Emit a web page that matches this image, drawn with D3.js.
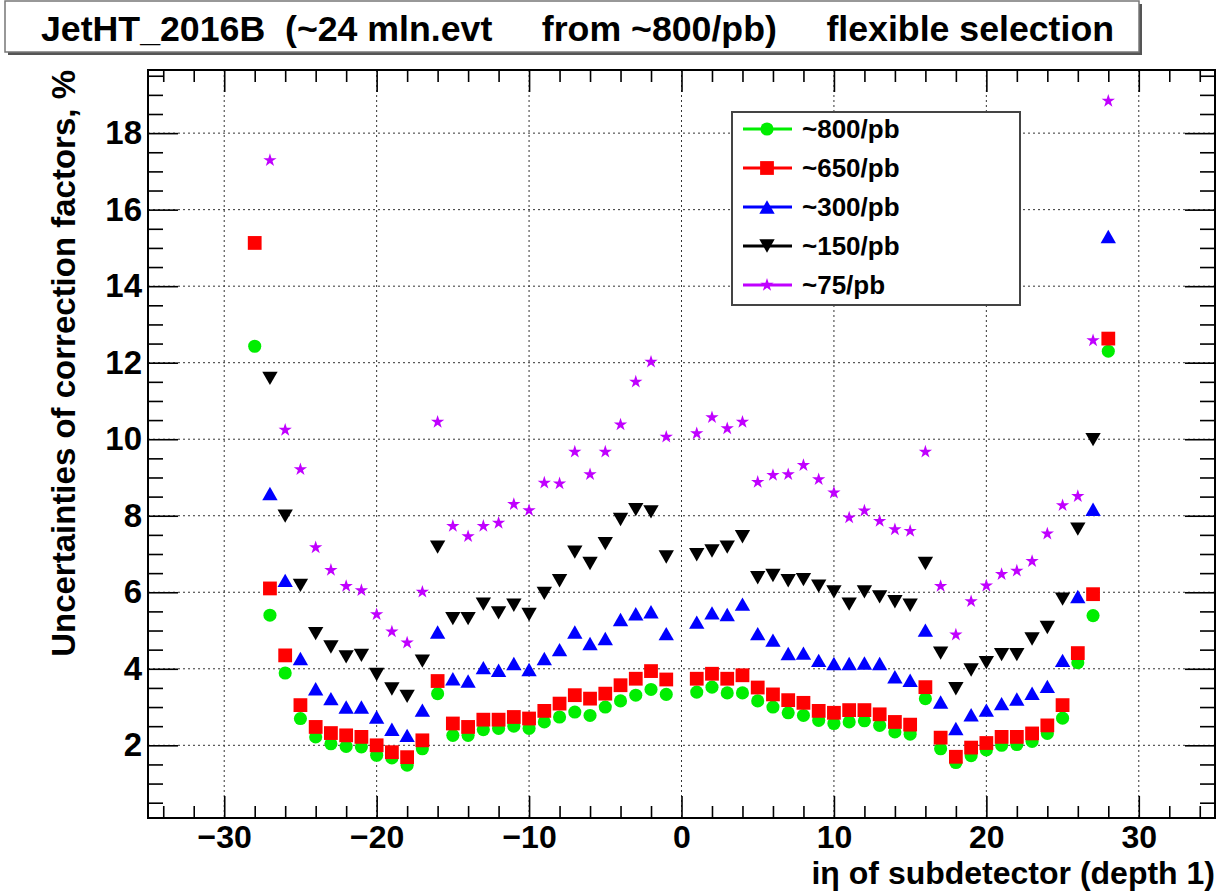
<!DOCTYPE html>
<html>
<head>
<meta charset="utf-8">
<script src="https://cdn.jsdelivr.net/npm/d3@7"></script>
<style>
  body { margin: 0; background: #fff; }
  svg text { font-family: 'Liberation Sans', Arial, Helvetica, sans-serif; font-weight: bold; fill: #000; }
</style>
</head>
<body>
<svg id="chart" width="1230" height="891"></svg>
<script>
// ieta bins of HCAL depth 1
const etaBins = [-28,-27,-26,-25,-24,-23,-22,-21,-20,-19,-18,-17,-16,-15,-14,-13,-12,-11,-10,-9,-8,-7,-6,-5,-4,-3,-2,-1,
                 1,2,3,4,5,6,7,8,9,10,11,12,13,14,15,16,17,18,19,20,21,22,23,24,25,26,27,28];

const lumiLabels = ["~800/pb", "~650/pb", "~300/pb", "~150/pb", "~75/pb"];

// uncertainties of correction factors, % (null = outside the plotted range)
const unc800pb = [12.43,5.40,3.89,2.70,2.22,2.04,1.97,1.96,1.74,1.67,1.48,1.91,3.35,2.26,2.26,2.41,2.44,2.50,2.44,2.61,2.74,2.87,2.78,3.00,3.16,3.31,3.46,3.33,
                  3.39,3.52,3.37,3.37,3.16,3.00,2.85,2.78,2.65,2.57,2.61,2.64,2.52,2.35,2.29,3.22,1.91,1.55,1.73,1.88,2.00,2.02,2.10,2.31,2.71,4.16,5.39,12.30];
const unc650pb = [15.13,6.10,4.35,3.05,2.48,2.32,2.26,2.22,2.00,1.82,1.69,2.13,3.68,2.57,2.48,2.67,2.67,2.74,2.70,2.90,3.09,3.31,3.22,3.35,3.57,3.74,3.94,3.72,
                  3.74,3.87,3.74,3.83,3.51,3.33,3.18,3.11,2.90,2.85,2.92,2.92,2.81,2.61,2.54,3.52,2.20,1.70,1.94,2.06,2.22,2.22,2.31,2.52,3.05,4.41,5.95,12.63];
const unc300pb = [null,8.58,6.31,4.27,3.48,3.22,3.00,3.00,2.74,2.42,2.26,2.92,4.96,3.74,3.68,4.03,3.96,4.14,3.98,4.27,4.50,4.96,4.66,4.79,5.29,5.44,5.49,4.92,
                  5.22,5.46,5.42,5.69,4.92,4.75,4.40,4.41,4.22,4.14,4.14,4.15,4.14,3.79,3.70,5.01,3.13,2.44,2.80,2.92,3.09,3.21,3.36,3.54,4.22,5.89,8.17,15.30];
const unc150pb = [null,11.59,7.99,6.18,4.92,4.57,4.31,4.35,3.85,3.47,3.28,4.20,7.18,5.31,5.31,5.69,5.46,5.66,5.42,5.97,6.30,7.05,6.75,7.27,7.90,8.16,8.10,6.92,
                  6.98,7.08,7.18,7.45,6.38,6.44,6.30,6.33,6.16,6.01,5.69,6.01,5.88,5.75,5.66,6.75,4.41,3.48,3.97,4.16,4.37,4.37,4.78,5.08,5.82,7.65,9.99,null];
const unc75pb  = [null,17.29,10.24,9.21,7.17,6.58,6.16,6.05,5.42,4.97,4.68,6.01,10.45,7.73,7.46,7.73,7.81,8.30,8.14,8.86,8.84,9.67,9.08,9.67,10.38,11.50,12.02,10.06,
                  10.15,10.57,10.28,10.45,8.88,9.06,9.08,9.32,8.95,8.60,7.95,8.13,7.86,7.64,7.60,9.67,6.16,4.89,5.76,6.17,6.47,6.56,6.81,7.53,8.27,8.51,12.58,18.84];

const xTickValues = [-30, -20, -10, 0, 10, 20, 30];
const yTickValues = [2, 4, 6, 8, 10, 12, 14, 16, 18];

const titleText = "JetHT_2016B  (~24 mln.evt     from ~800/pb)     flexible selection";
const xTitle = "i\u03B7 of subdetector (depth 1)";
const yTitle = "Uncertainties of correction factors, %";

// ---------------------------------------------------------------------------
const svg = d3.select("#chart");
const frame = { left: 148, right: 1215, top: 70, bottom: 818 };

const x = d3.scaleLinear().domain([-35, 35]).range([frame.left, frame.right]);
const y = d3.scaleLinear().domain([0.1, 19.65]).range([frame.bottom, frame.top]);

// marker shapes (ROOT styles 20, 21, 22, 23, 29)
const triUp = { draw(ctx, size) { const w = Math.sqrt(size) * 0.55, h = Math.sqrt(size) * 0.48;
  ctx.moveTo(0, -h); ctx.lineTo(w, h); ctx.lineTo(-w, h); ctx.closePath(); } };
const triDown = { draw(ctx, size) { const w = Math.sqrt(size) * 0.55, h = Math.sqrt(size) * 0.48;
  ctx.moveTo(0, h); ctx.lineTo(w, -h); ctx.lineTo(-w, -h); ctx.closePath(); } };

const styles = [
  { color: "#00ee00", symbol: d3.symbolCircle, size: 135 },
  { color: "#ff0000", symbol: d3.symbolSquare, size: 190 },
  { color: "#0000ff", symbol: triUp,           size: 195 },
  { color: "#000000", symbol: triDown,         size: 195 },
  { color: "#c000ff", symbol: d3.symbolStar,   size: 55 }
];
const seriesValues = [unc800pb, unc650pb, unc300pb, unc150pb, unc75pb];
const series = lumiLabels.map((name, i) => ({
  name,
  style: styles[i],
  points: etaBins.map((e, j) => ({ eta: e, v: seriesValues[i][j] })).filter(p => p.v !== null)
}));

// title pave with shadow
const title = svg.append("g");
title.append("rect").attr("x", 8).attr("y", 4).attr("width", 1134).attr("height", 51).attr("fill", "#555");
title.append("rect").attr("x", 5).attr("y", 1).attr("width", 1134).attr("height", 51)
  .attr("fill", "#fff").attr("stroke", "#777").attr("stroke-width", 1.5);
title.append("text").attr("x", 41).attr("y", 41)
  .attr("xml:space", "preserve").style("white-space", "pre")
  .style("font-size", "35.7px").text(titleText);

// clip for the drawing area
svg.append("defs").append("clipPath").attr("id", "plotClip")
  .append("rect").attr("x", frame.left).attr("y", frame.top)
  .attr("width", frame.right - frame.left).attr("height", frame.bottom - frame.top);

// grid
const grid = svg.append("g").attr("stroke", "#333").attr("stroke-width", 1).attr("stroke-dasharray", "2,3");
grid.selectAll(".gx").data(xTickValues).join("line")
  .attr("x1", d => x(d)).attr("x2", d => x(d)).attr("y1", frame.top).attr("y2", frame.bottom);
grid.selectAll(".gy").data(yTickValues).join("line")
  .attr("x1", frame.left).attr("x2", frame.right).attr("y1", d => y(d)).attr("y2", d => y(d));

// axes: major/minor ticks pointing inwards on all four sides
const xMinor = d3.range(-34, 35, 2).filter(v => v % 10 !== 0);
const yMinor = d3.range(0.5, 19.6, 0.5).filter(v => v % 2 !== 0);

function addAxis(axis, tx, ty, withLabels, fontSize) {
  const g = svg.append("g").attr("transform", `translate(${tx},${ty})`).call(axis);
  g.select(".domain").remove();
  g.selectAll(".tick line").attr("stroke-width", 1.6);
  g.selectAll("text").style("font-size", fontSize + "px");
  if (!withLabels) g.selectAll("text").remove();
  return g;
}
addAxis(d3.axisBottom(x).tickValues(xTickValues).tickSize(-22).tickPadding(7).tickFormat(d3.format("d")), 0, frame.bottom, true, 32);
addAxis(d3.axisBottom(x).tickValues(xMinor).tickSize(-12), 0, frame.bottom, false);
addAxis(d3.axisTop(x).tickValues(xTickValues).tickSize(-22), 0, frame.top, false);
addAxis(d3.axisTop(x).tickValues(xMinor).tickSize(-12), 0, frame.top, false);
addAxis(d3.axisLeft(y).tickValues(yTickValues).tickSize(-30).tickPadding(6).tickFormat(d3.format("d")), frame.left, 0, true, 33);
addAxis(d3.axisLeft(y).tickValues(yMinor).tickSize(-15), frame.left, 0, false);
addAxis(d3.axisRight(y).tickValues(yTickValues).tickSize(-30), frame.right, 0, false);
addAxis(d3.axisRight(y).tickValues(yMinor).tickSize(-15), frame.right, 0, false);

// frame
svg.append("rect").attr("x", frame.left).attr("y", frame.top)
  .attr("width", frame.right - frame.left).attr("height", frame.bottom - frame.top)
  .attr("fill", "none").attr("stroke", "#000").attr("stroke-width", 2);

// markers
const marks = svg.append("g").attr("clip-path", "url(#plotClip)");
series.forEach(s => {
  marks.append("g").selectAll("path").data(s.points).join("path")
    .attr("transform", d => `translate(${x(d.eta)},${y(d.v)})`)
    .attr("d", d3.symbol(s.style.symbol, s.style.size)())
    .attr("fill", s.style.color);
});

// axis titles
svg.append("text").attr("x", frame.right).attr("y", 884).attr("text-anchor", "end")
  .style("font-size", "32px").text(xTitle);
svg.append("text").attr("transform", `translate(75,${frame.top}) rotate(-90)`).attr("text-anchor", "end")
  .style("font-size", "33px").text(yTitle);

// legend
const leg = { x: 732, y: 112, w: 288, h: 193 };
const legend = svg.append("g");
legend.append("rect").attr("x", leg.x).attr("y", leg.y).attr("width", leg.w).attr("height", leg.h)
  .attr("fill", "#fff").attr("stroke", "#444").attr("stroke-width", 2);
const rowY = d3.scalePoint().domain(lumiLabels).range([leg.y + 17, leg.y + 173]);
series.forEach(s => {
  const cy = rowY(s.name);
  legend.append("line").attr("x1", leg.x + 11).attr("x2", leg.x + 60).attr("y1", cy).attr("y2", cy)
    .attr("stroke", s.style.color).attr("stroke-width", 3);
  legend.append("path").attr("transform", `translate(${leg.x + 35},${cy})`)
    .attr("d", d3.symbol(s.style.symbol, s.style.size)()).attr("fill", s.style.color);
  legend.append("text").attr("x", leg.x + 70).attr("y", cy).attr("dy", "0.36em")
    .style("font-size", "26px").text(s.name);
});
</script>
</body>
</html>
